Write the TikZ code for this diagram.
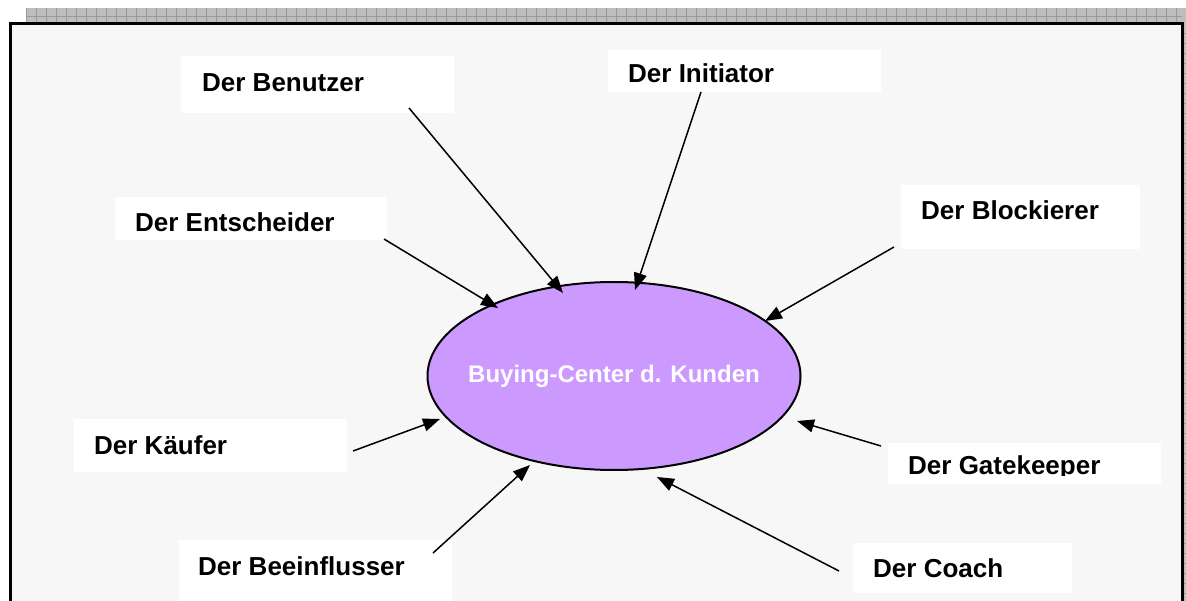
\documentclass[tikz,border=0pt]{standalone}
\usepackage{fontspec}
\setmainfont{Liberation Sans}
\usetikzlibrary{arrows.meta,shapes.geometric}
\definecolor{bgpanel}{HTML}{F7F7F7}
\definecolor{stripfill}{HTML}{BEBEBE}
\definecolor{stripline}{HTML}{999999}
\definecolor{ellfill}{HTML}{CC99FF}
\tikzset{
  rolebox/.style={fill=white, draw=none, inner sep=0pt},
  rolelbl/.style={font=\fontsize{26}{30}\selectfont\bfseries, inner sep=0pt, anchor=base west},
  conn/.style={line width=1.5pt, -{Triangle[length=17pt,width=13pt]}},
}
\begin{document}
\begin{tikzpicture}[x=1pt,y=-1pt]
\useasboundingbox (0,0) rectangle (1186,601);
\fill[white] (0,0) rectangle (1186,601);
% hatched strips
\fill[stripfill] (26,8) rectangle (1186,23);
\foreach \i in {26,36,...,1186} \draw[stripline,line width=0.8pt] (\i,8) -- (\i,23);
\draw[stripline,line width=0.8pt] (26,16) -- (1186,16);
\fill[stripfill] (1182,8) rectangle (1186,601);
\foreach \j in {33,43,...,601} \draw[stripline,line width=0.8pt] (1182,\j) -- (1186,\j);
% panel
\fill[bgpanel] (10,24) rectangle (1182,610);
\draw[black,line width=3pt] (10,612) -- (10,24) -- (1182,24) -- (1182,612);
% central ellipse
\node[ellipse, draw=black, line width=2pt, fill=ellfill, minimum width=373, minimum height=188, inner sep=0pt] (bc) at (614,376) {};
\node[font=\fontsize{24}{28}\selectfont\bfseries, text=white, inner sep=0pt] (bclabel) at (bc.center) {Buying-Center d. Kunden};
% boxes
\node[rolebox, minimum width=273, minimum height=57] (benutzerbox) at (317.5,84.5) {};
\node[rolelbl] (benutzer) at (202,92) {Der Benutzer};
\node[rolebox, minimum width=273, minimum height=42] (initiatorbox) at (744.5,71) {};
\node[rolelbl] (initiator) at (628,83) {Der Initiator};
\node[rolebox, minimum width=272, minimum height=43] (entscheiderbox) at (251,218.5) {};
\node[rolelbl] (entscheider) at (135,232) {Der Entscheider};
\node[rolebox, minimum width=239, minimum height=64] (blockiererbox) at (1020.5,217) {};
\node[rolelbl] (blockierer) at (921,220) {Der Blockierer};
\node[rolebox, minimum width=273, minimum height=53] (kauferbox) at (210.5,445.5) {};
\node[rolelbl] (kaufer) at (94,454) {Der Käufer};
\node[rolebox, minimum width=273, minimum height=41] (gatekeeperbox) at (1024.5,463.5) {};
\begin{scope}
\clip (888,443) rectangle (1161,475);
\node[rolelbl] (gatekeeper) at (908,474) {Der Gatekeeper};
\end{scope}
\node[rolebox, minimum width=219, minimum height=50] (coachbox) at (962.5,568) {};
\node[rolelbl] (coach) at (873,577) {Der Coach};
\node[rolebox, minimum width=273, minimum height=70] (beeinflusserbox) at (315.5,575) {};
\node[rolelbl] (beeinflusser) at (198,575) {Der Beeinflusser};
% connector endpoints
\coordinate (s1) at (409,108);  \coordinate (e1) at (563,293);
\coordinate (s2) at (701,92);   \coordinate (e2) at (635,290);
\coordinate (s3) at (384,239);  \coordinate (e3) at (498,308);
\coordinate (s4) at (894,247);  \coordinate (e4) at (765,321);
\coordinate (s5) at (353,451);  \coordinate (e5) at (440,419);
\coordinate (s6) at (881,446);  \coordinate (e6) at (797,421);
\coordinate (s7) at (433,553);  \coordinate (e7) at (530,465);
\coordinate (s8) at (839,571);  \coordinate (e8) at (657,477);
\foreach \k in {1,...,8} \draw[conn] (s\k) -- (e\k);
\end{tikzpicture}
\end{document}
